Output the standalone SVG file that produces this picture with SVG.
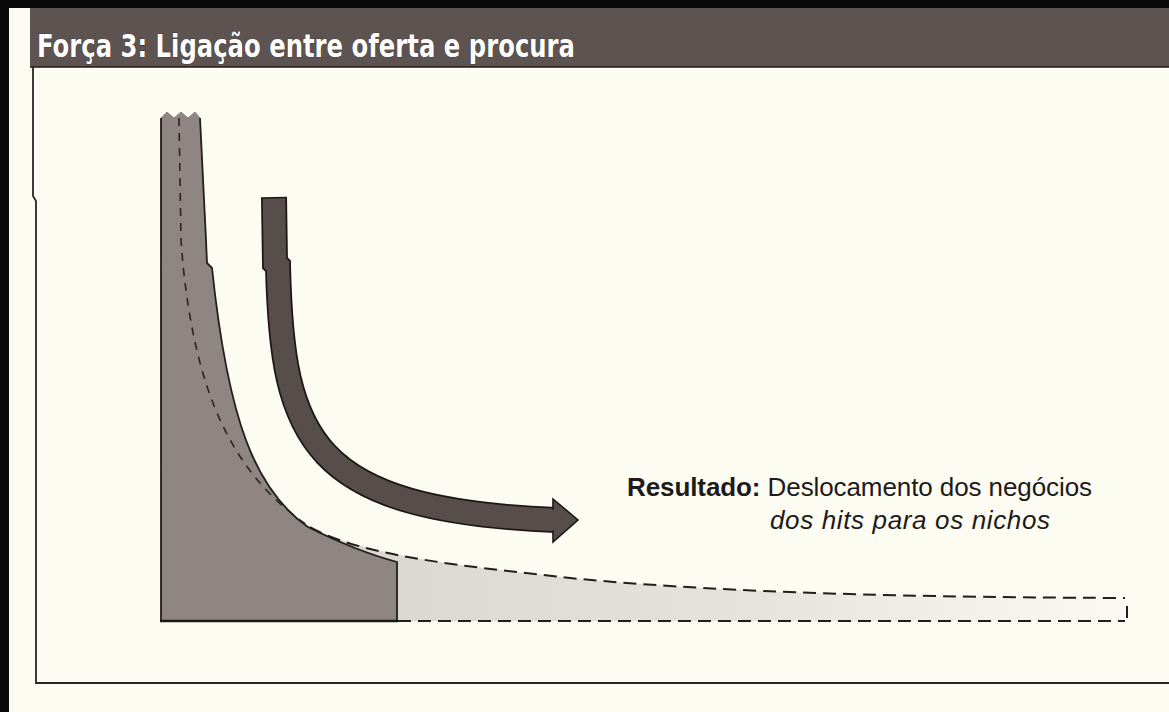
<svg xmlns="http://www.w3.org/2000/svg" width="1169" height="712" viewBox="0 0 1169 712">
<defs>
<style>
.title{font-family:"Liberation Sans Narrow","DejaVu Sans Condensed","Liberation Sans",sans-serif;font-weight:bold;font-size:32px;fill:#ffffff;stroke:#2a2220;stroke-width:0.6px;paint-order:stroke}
.lbl{font-family:"Liberation Sans",Arial,sans-serif;font-size:26px;fill:#1e1a18}
.edge{fill:none;stroke:#231d1b;stroke-width:1.8}
.dash1{fill:none;stroke:#2b2422;stroke-width:1.6;stroke-dasharray:8 7}
.dash2{fill:none;stroke:#231d1b;stroke-width:2;stroke-dasharray:13 7}
</style>
<linearGradient id="tail" x1="0" y1="0" x2="1" y2="0">
<stop offset="0" stop-color="#d9d5d0"/>
<stop offset="0.55" stop-color="#e6e3dc"/>
<stop offset="1" stop-color="#fbfaf2"/>
</linearGradient>
</defs>
<rect x="0" y="0" width="1169" height="712" fill="#fdfcf3"/>
<rect x="0" y="0" width="1169" height="8" fill="#0a0a0a"/>
<rect x="0" y="0" width="9" height="712" fill="#0a0a0a"/>
<g id="header">
<rect x="30" y="8" width="1139" height="59" fill="#5d5350"/>
<line x1="30" y1="67" x2="1169" y2="67" stroke="#1f1a18" stroke-width="1.5"/>
<text class="title" x="37" y="57" textLength="538" lengthAdjust="spacingAndGlyphs">Força 3: Ligação entre oferta e procura</text>
</g>
<g id="frame">
<path d="M33,67 L33,196 L36,201 L36,683 L1169,683" fill="none" stroke="#2c2624" stroke-width="1.8"/>
</g>
<g id="tail-area">
<path d="M300,522 C360,555 450,565 580,579 C700,590 850,597 1125,598 L1125,621 L300,621 Z" fill="url(#tail)"/>
</g>
<g id="hits-area">
<path d="M161,621 L161,118 L167,112 L174,118 L181,112 L188,118 L195,112 L200,118 L206,240 L207,263 L212,268 C228,420 255,490 308,527 C330,538 360,552 397,562 L397,621 Z" fill="#8f8683"/>
<path d="M161,621 L161,118 M200,118 L206,240 L207,263 L212,268 C228,420 255,490 308,527 C330,538 360,552 397,562 L397,621" class="edge"/>
<path d="M161,118 L167,112 L174,118 L181,112 L188,118 L195,112 L200,118" fill="none" stroke="#8f8683" stroke-width="1"/>
<line x1="160" y1="621" x2="398" y2="621" stroke="#1e1918" stroke-width="2.4"/>
</g>
<g id="connectors">
<path class="dash1" d="M179,118 L181,240 L183,265 C195,380 225,470 310,527"/>
<path class="dash2" d="M310,527 C360,555 450,565 580,579 C700,590 850,597 1125,598"/>
<path class="dash2" d="M398,621 L1125,621"/>
<line x1="1127" y1="606" x2="1127" y2="618" stroke="#231d1b" stroke-width="2"/>
<g id="shift-arrow">
<path d="M274,197 L275,263 L278,266 C282,440 310,510 556,520" fill="none" stroke="#1c1716" stroke-width="26"/>
<path d="M274,198.5 L275,263 L278,266 C282,440 310,510 556,520" fill="none" stroke="#574d4a" stroke-width="22.5"/>
<polygon points="553,499 578,520 553,542" fill="#574d4a" stroke="#1c1716" stroke-width="1.6" stroke-linejoin="miter"/>
<rect x="548" y="509.5" width="7" height="21" fill="#574d4a"/>
</g>
</g>
<g id="result-label">
<text class="lbl" x="627" y="496" textLength="465"><tspan font-weight="bold">Resultado:</tspan> Deslocamento dos negócios</text>
<text class="lbl" x="770" y="529" font-style="italic" textLength="280">dos hits para os nichos</text>
</g>
</svg>
